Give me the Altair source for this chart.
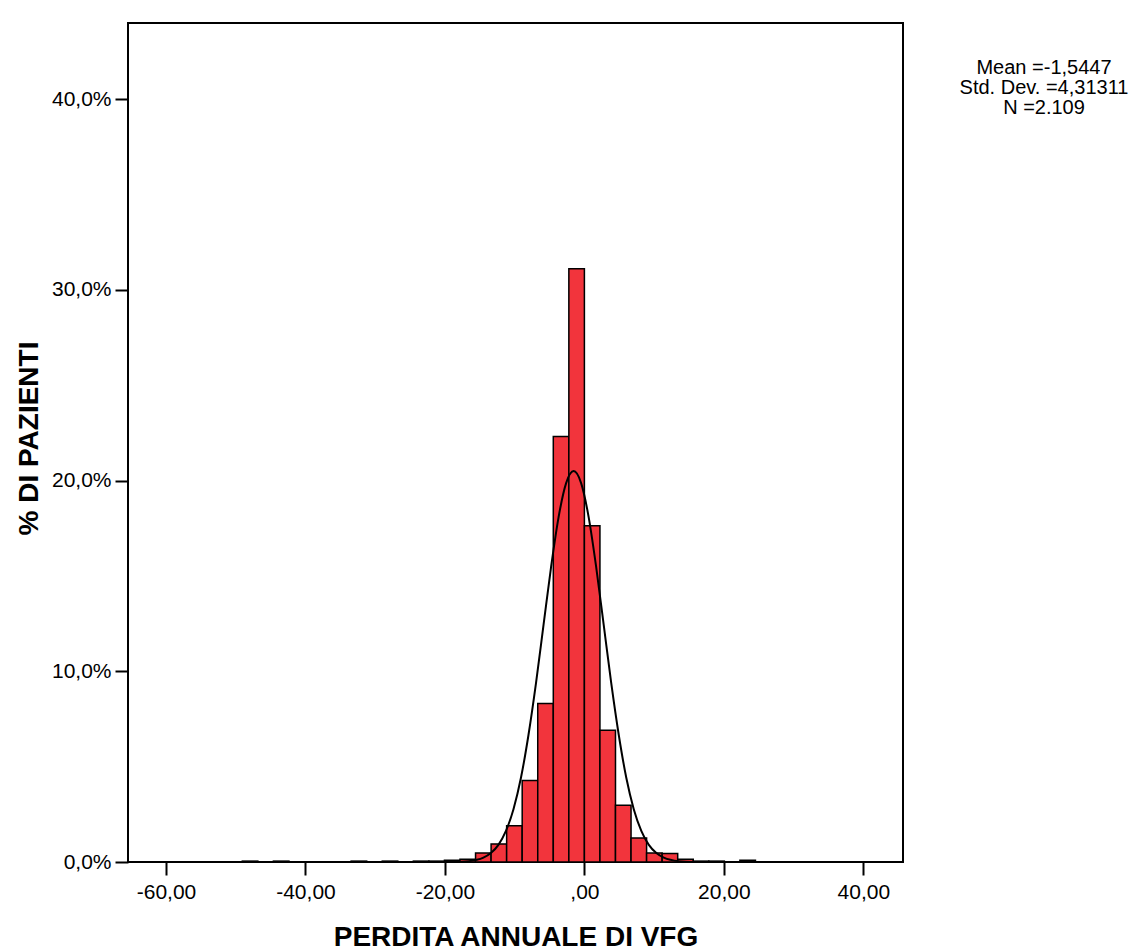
import altair as alt
import pandas as pd

# Histogram bins (lower edge of each bin, in VFG units) and percent of patients
bin_width = 2.23
bin_start = [-49.06, -44.60, -33.45, -28.99, -24.53, -22.30, -20.07, -17.84,
             -15.61, -13.38, -11.15, -8.92, -6.69, -4.46, -2.23,
             0.00, 2.23, 4.46, 6.69, 8.92, 11.15, 13.38, 15.61, 17.84, 22.30]
bin_pct = [0.047, 0.047, 0.047, 0.047, 0.047, 0.047, 0.095, 0.14,
           0.47, 0.95, 1.90, 4.27, 8.31, 22.31, 31.11,
           17.63, 6.91, 2.97, 1.26, 0.47, 0.44, 0.14, 0.047, 0.047, 0.095]

# Normal curve points
curve_x = [-65.45, -18.80, -16.64, -14.48, -13.41, -12.33, -11.25, -10.17, -9.09,
           -8.02, -6.94, -5.86, -4.78, -3.70, -2.62, -1.545, -0.47, 0.61, 1.69,
           2.77, 3.85, 4.93, 6.00, 7.08, 8.16, 9.24, 10.32, 11.39, 13.55, 15.71, 45.69]
curve_y = [0.0, 0.006, 0.045, 0.23, 0.47, 0.90, 1.63, 2.77, 4.43,
           6.66, 9.38, 12.43, 15.47, 18.09, 19.87, 20.50, 19.87, 18.09, 15.47,
           12.43, 9.38, 6.66, 4.43, 2.77, 1.63, 0.90, 0.47, 0.23, 0.045, 0.006, 0.0]

stats_lines = ["Mean =-1,5447", "Std. Dev. =4,31311", "N =2.109"]

x_ticks = [-60, -40, -20, 0, 20, 40]
y_ticks = [0, 10, 20, 30, 40]

bars_df = pd.DataFrame({
    "lo": bin_start,
    "hi": [b + bin_width for b in bin_start],
    "pct": bin_pct,
})
curve_df = pd.DataFrame({"lo": curve_x, "pct": curve_y})

FONT = "Liberation Sans"

x_axis = alt.Axis(
    values=x_ticks,
    labelExpr="datum.value == 0 ? ',00' : (datum.value < 0 ? '-' : '') + replace(format(abs(datum.value), '.2f'), '.', ',')",
    title="PERDITA ANNUALE DI VFG",
    titleFontSize=28, titleFontWeight="bold", titleFont=FONT,
    titleY=83, titleBaseline="alphabetic",
    labelFontSize=21, labelPadding=6, tickSize=13,
)
y_axis = alt.Axis(
    values=y_ticks,
    labelExpr="replace(format(datum.value, '.1f'), '.', ',') + '%'",
    title="% DI PAZIENTI",
    titleFontSize=28, titleFontWeight="bold", titleFont=FONT,
    titleX=-91, titleY=415, titleBaseline="alphabetic", titleAngle=270,
    labelFontSize=21, labelPadding=4, tickSize=13,
)

x_scale = alt.Scale(domain=[-65.45, 45.69], nice=False, zero=False)
y_scale = alt.Scale(domain=[0, 44.0], nice=False, zero=True)

bars = alt.Chart(bars_df).mark_rect(
    fill="#f2343c", stroke="black", strokeWidth=1.5
).encode(
    x=alt.X("lo:Q", scale=x_scale, axis=x_axis),
    x2="hi:Q",
    y=alt.Y("pct:Q", scale=y_scale, axis=y_axis),
    y2=alt.datum(0),
)

curve = alt.Chart(curve_df).mark_line(
    color="black", strokeWidth=2, interpolate="monotone"
).encode(
    x=alt.X("lo:Q", scale=x_scale, axis=x_axis),
    y=alt.Y("pct:Q", scale=y_scale, axis=y_axis),
)

def stat_text(line, ypix):
    return alt.Chart(pd.DataFrame({"t": [line]})).mark_text(
        font=FONT, fontSize=20, align="center", baseline="middle", color="black",
    ).encode(
        text="t:N",
        x=alt.value(916),
        y=alt.value(ypix),
    )

stats = [stat_text(stats_lines[0], 45), stat_text(stats_lines[1], 65), stat_text(stats_lines[2], 85)]

chart = alt.layer(bars, curve, *stats).properties(
    width=775,
    height=839,
    autosize=alt.AutoSizeParams(type="none"),
    padding={"left": 120, "top": 15, "right": 231, "bottom": 90},
    background="white",
).configure_view(
    stroke="black", strokeWidth=2
).configure_axis(
    grid=False, domain=False,
    tickColor="black", tickWidth=2,
    labelColor="black", titleColor="black",
    labelFont=FONT, titleFont=FONT,
)

chart.save("out.html", embed_options={"renderer": "svg", "actions": False})
